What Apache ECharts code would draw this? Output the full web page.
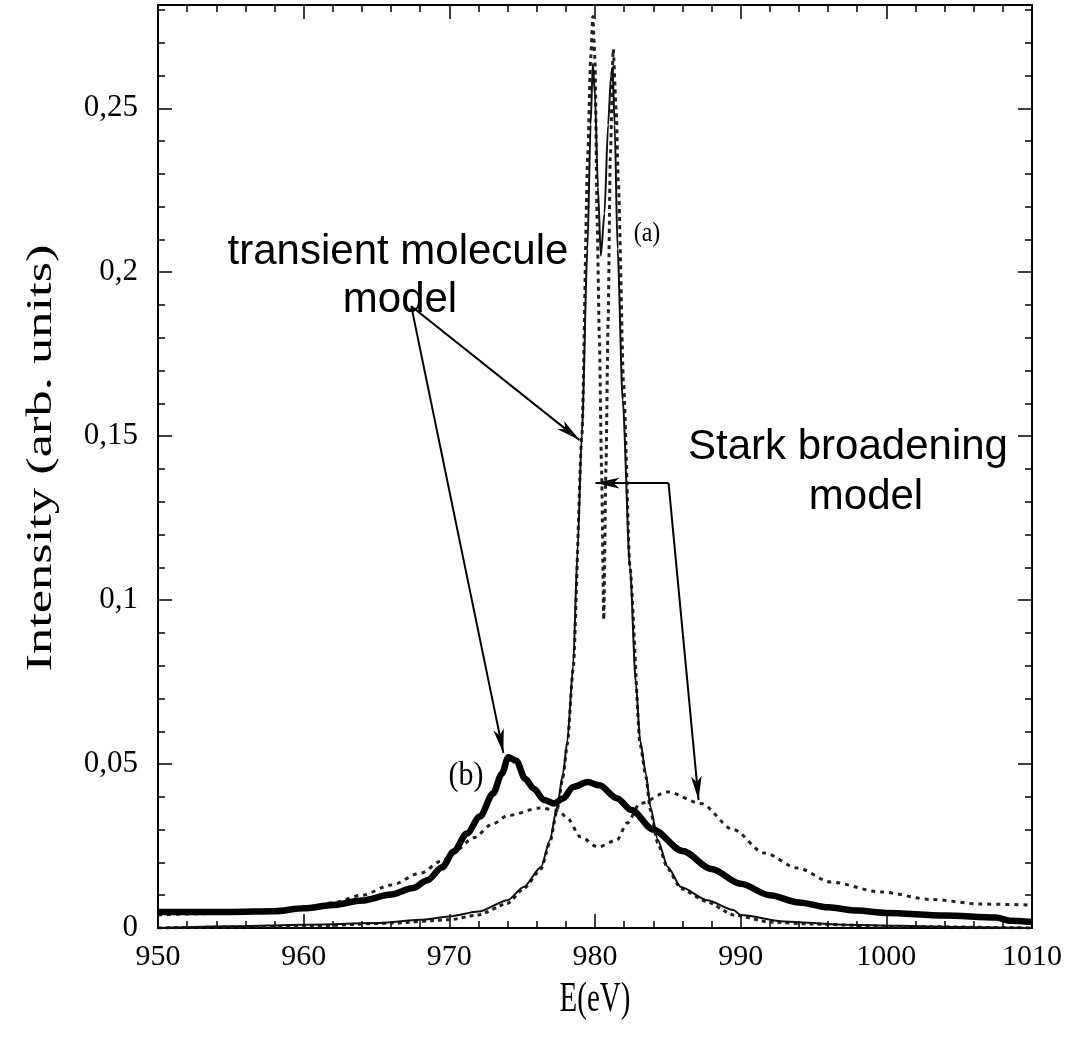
<!DOCTYPE html>
<html><head><meta charset="utf-8">
<script src="https://cdn.jsdelivr.net/npm/echarts@6/dist/echarts.min.js"></script>
<style>html,body{margin:0;padding:0;background:#fff}#chart{width:1068px;height:1050px}</style>
</head><body><div id="chart"></div>
<script>
// ---- tick labels / axis names ----
const xTickValues = [950, 960, 970, 980, 990, 1000, 1010];
const yTickValues = [0, 0.05, 0.1, 0.15, 0.2, 0.25];
const yTickLabels = ['0', '0,05', '0,1', '0,15', '0,2', '0,25'];
const xName = 'E(eV)';
const yName = 'Intensity (arb. units)';

// ---- (a) transient molecule model (thin solid) ----
const eA = [950, 955, 960, 965, 968, 970, 972, 974, 975.1, 976.3, 976.9, 977.4, 977.8, 978.1, 978.5, 978.8, 979.1, 979.48, 979.7, 979.85, 980.0, 980.2, 980.4, 980.65, 980.9, 981.1, 981.2, 981.35, 981.55, 981.9, 982.4, 982.8, 983.1, 983.5, 983.8, 984.3, 985.0, 985.9, 987.7, 989.5, 990, 993, 997, 1005, 1010];
const vA = [0.0, 0.0005, 0.001, 0.0015, 0.0025, 0.0035, 0.005, 0.0085, 0.0125, 0.0186, 0.0268, 0.037, 0.047, 0.057, 0.08, 0.115, 0.151, 0.207, 0.245, 0.2637, 0.254, 0.226, 0.205, 0.218, 0.245, 0.26, 0.2625, 0.245, 0.207, 0.161, 0.11, 0.075, 0.057, 0.047, 0.037, 0.027, 0.0186, 0.0125, 0.0085, 0.0055, 0.004, 0.002, 0.001, 0.0003, 0.0];

// ---- (a) Stark broadening model (dotted) ----
const eAd = [950, 960, 966, 970, 972, 974, 975.1, 976.3, 976.9, 977.4, 977.8, 978.1, 978.5, 979.1, 979.5, 979.7, 979.85, 980.0, 980.15, 980.3, 980.45, 980.6, 980.75, 980.9, 981.05, 981.25, 981.45, 981.6, 981.96, 982.4, 983.1, 983.5, 983.8, 984.3, 985.0, 985.9, 987.7, 989.5, 992, 995, 1000, 1010];
const vAd = [0.0, 0.0005, 0.0015, 0.0025, 0.004, 0.0075, 0.012, 0.018, 0.026, 0.036, 0.046, 0.056, 0.079, 0.15, 0.235, 0.265, 0.278, 0.265, 0.215, 0.18, 0.14, 0.094, 0.14, 0.185, 0.235, 0.268, 0.25, 0.228, 0.166, 0.11, 0.056, 0.046, 0.036, 0.026, 0.018, 0.012, 0.008, 0.004, 0.0018, 0.0012, 0.0005, 0.0];

// ---- (b) transient molecule model (thick solid) ----
const eB = [950, 955, 958, 960, 962, 964, 966, 967.5, 968.5, 969.5, 970.3, 971.2, 972.1, 973, 973.6, 974.05, 974.6, 975.2, 975.8, 976.5, 977.2, 977.8, 978.5, 979.5, 980.3, 981.5, 982.5, 984, 986, 988, 990, 992, 994, 996, 998, 1000, 1004, 1007.5, 1008.5, 1010];
const vB = [0.0049, 0.0049, 0.0051, 0.006, 0.007, 0.0084, 0.0102, 0.0122, 0.0146, 0.0185, 0.0233, 0.0288, 0.034, 0.041, 0.047, 0.0521, 0.051, 0.0455, 0.0425, 0.039, 0.038, 0.0395, 0.043, 0.0445, 0.0435, 0.0396, 0.036, 0.030, 0.0235, 0.018, 0.0135, 0.010, 0.0078, 0.0063, 0.0053, 0.0046, 0.0038, 0.0032, 0.0022, 0.0018];

// ---- (b) Stark broadening model (dotted) ----
const eBd = [950, 955, 960, 962, 964, 966, 968, 969.5, 970.5, 971.65, 973, 974, 976.25, 977.5, 978.1, 979, 980.2, 981.5, 982.2, 983.1, 985, 987.25, 989.5, 991.6, 993.9, 996.2, 999.6, 1003.1, 1006.5, 1010];
const vBd = [0.004, 0.0045, 0.006, 0.0077, 0.0100, 0.0131, 0.0167, 0.0205, 0.0238, 0.0275, 0.0318, 0.0343, 0.0366, 0.0358, 0.0335, 0.0278, 0.0247, 0.0268, 0.032, 0.038, 0.0415, 0.038, 0.030, 0.0229, 0.0183, 0.0140, 0.011, 0.0087, 0.0073, 0.007];

// ---- annotation arrows (data coordinates) ----
const arrowStartTM = [967.39, 0.1896];
const arrowTipTM1 = [978.94, 0.1488];
const arrowTipTM2 = [973.71, 0.0534];
const arrowCornerSB = [985.05, 0.1357];
const arrowTipSB1 = [980.03, 0.1357];
const arrowTipSB2 = [987.11, 0.039];

const zip = (e, v) => e.map((x, i) => [x, v[i]]);
const yMax = 0.2815;

const serif = 'Liberation Serif';
const sans = 'Liberation Sans';
const frameLine = { show: true, onZero: false, lineStyle: { color: '#000', width: 2 } };
const tickStyle = { color: '#000', width: 1.5 };

const chart = echarts.init(document.getElementById('chart'), null, { renderer: 'canvas' });

const xBase = { type: 'value', min: 950, max: 1010, interval: 10, splitLine: { show: false }, minorSplitLine: { show: false }, axisLine: frameLine };
const yMain = { type: 'value', min: 0, max: yMax, interval: 0.05, splitLine: { show: false }, axisLine: frameLine };
const yMinor = { type: 'value', min: 0, max: yMax, interval: 0.01, splitLine: { show: false }, axisLine: { show: false }, axisLabel: { show: false }, axisTick: { inside: true, length: 7, lineStyle: tickStyle } };

const option = {
  animation: false,
  backgroundColor: '#fff',
  grid: { left: 158, right: 36, top: 5, bottom: 122, containLabel: false, outerBoundsMode: 'none' },
  xAxis: [
    Object.assign({}, xBase, {
      position: 'bottom',
      axisTick: { inside: true, length: 14, lineStyle: tickStyle },
      minorTick: { show: true, splitNumber: 5, length: 7, lineStyle: tickStyle },
      axisLabel: { margin: 14, fontFamily: serif, fontSize: 30, color: '#000',
        formatter: v => (xTickValues.indexOf(Math.round(v)) >= 0 ? String(Math.round(v)) : '') }
    }),
    Object.assign({}, xBase, {
      position: 'top',
      axisTick: { inside: true, length: 14, lineStyle: tickStyle },
      minorTick: { show: true, splitNumber: 5, length: 7, lineStyle: tickStyle },
      axisLabel: { show: false }
    })
  ],
  yAxis: [
    Object.assign({}, yMain, {
      position: 'left',
      axisTick: { inside: true, length: 14, lineStyle: tickStyle },
      axisLabel: { margin: 20, fontFamily: serif, fontSize: 31, color: '#000',
        formatter: v => { const i = yTickValues.findIndex(t => Math.abs(t - v) < 1e-9); return i >= 0 ? yTickLabels[i] : ''; } }
    }),
    Object.assign({}, yMinor, { position: 'left' }),
    Object.assign({}, yMain, {
      position: 'right',
      axisTick: { inside: true, length: 14, lineStyle: tickStyle },
      axisLabel: { show: false }
    }),
    Object.assign({}, yMinor, { position: 'right' })
  ],
  series: [
    {
      name: '(b) Stark broadening model', type: 'line', xAxisIndex: 0, yAxisIndex: 0,
      data: zip(eBd, vBd), showSymbol: false, smooth: 0.3, smoothMonotone: 'x',
      lineStyle: { color: '#222', width: 3, type: [4, 5] }, z: 2
    },
    {
      name: '(a) Stark broadening model', type: 'line', xAxisIndex: 0, yAxisIndex: 0,
      data: zip(eAd, vAd), showSymbol: false, smooth: 0.2, smoothMonotone: 'x',
      lineStyle: { color: '#222', width: 3, type: [4, 4] }, z: 2
    },
    {
      name: '(a) transient molecule model', type: 'line', xAxisIndex: 0, yAxisIndex: 0,
      data: zip(eA, vA), showSymbol: false, smooth: 0.25, smoothMonotone: 'x',
      lineStyle: { color: '#111', width: 2 }, z: 3
    },
    {
      name: '(b) transient molecule model', type: 'line', xAxisIndex: 0, yAxisIndex: 0,
      data: zip(eB, vB), showSymbol: false, smooth: 0.3, smoothMonotone: 'x',
      lineStyle: { color: '#000', width: 6.5 }, z: 4
    },
    {
      name: 'annotations', type: 'line', xAxisIndex: 0, yAxisIndex: 0, data: [],
      markLine: {
        silent: true, animation: false,
        symbol: ['none', 'arrow'], symbolSize: [8, 24],
        label: { show: false },
        lineStyle: { color: '#000', width: 2, type: 'solid' },
        emphasis: { disabled: true },
        data: [
          [{ coord: arrowStartTM }, { coord: arrowTipTM1 }],
          [{ coord: arrowStartTM }, { coord: arrowTipTM2 }],
          [{ coord: arrowCornerSB }, { coord: arrowTipSB1 }],
          [{ coord: arrowCornerSB }, { coord: arrowTipSB2 }]
        ]
      },
      z: 5
    }
  ],
  graphic: [
    { type: 'text', x: 398, y: 252, style: { text: 'transient molecule', font: '42px "' + sans + '"', textAlign: 'center', textVerticalAlign: 'middle', align: 'center', verticalAlign: 'middle', fill: '#000' } },
    { type: 'text', x: 400, y: 300, style: { text: 'model', font: '42px "' + sans + '"', textAlign: 'center', textVerticalAlign: 'middle', align: 'center', verticalAlign: 'middle', fill: '#000' } },
    { type: 'text', x: 848, y: 447, style: { text: 'Stark broadening', font: '42px "' + sans + '"', textAlign: 'center', textVerticalAlign: 'middle', align: 'center', verticalAlign: 'middle', fill: '#000' } },
    { type: 'text', x: 866, y: 497, style: { text: 'model', font: '42px "' + sans + '"', textAlign: 'center', textVerticalAlign: 'middle', align: 'center', verticalAlign: 'middle', fill: '#000' } },
    { type: 'text', x: 647, y: 234, scaleY: 1.15, style: { text: '(a)', font: '24px "' + serif + '"', textAlign: 'center', textVerticalAlign: 'middle', align: 'center', verticalAlign: 'middle', fill: '#000' } },
    { type: 'text', x: 466, y: 776, scaleY: 1.1, style: { text: '(b)', font: '30px "' + serif + '"', textAlign: 'center', textVerticalAlign: 'middle', align: 'center', verticalAlign: 'middle', fill: '#000' } },
    { type: 'text', x: 42, y: 458, rotation: Math.PI / 2, scaleX: 1.5, style: { text: yName, font: '35px "' + serif + '"', textAlign: 'center', textVerticalAlign: 'middle', align: 'center', verticalAlign: 'middle', fill: '#000' } },
    { type: 'text', x: 595, y: 1000, scaleY: 1.45, style: { text: xName, font: '29px "' + serif + '"', textAlign: 'center', textVerticalAlign: 'middle', align: 'center', verticalAlign: 'middle', fill: '#000' } }
  ]
};
chart.setOption(option);
</script>
</body></html>
